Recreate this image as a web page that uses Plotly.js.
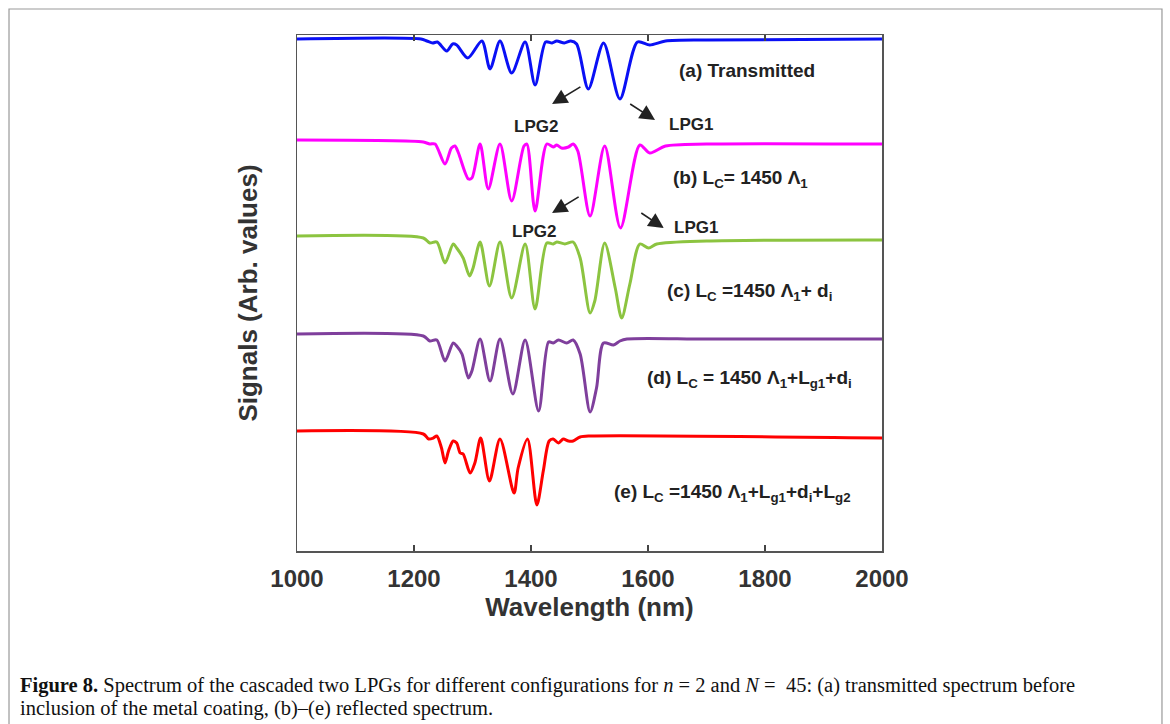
<!DOCTYPE html>
<html>
<head>
<meta charset="utf-8">
<script src="https://cdn.plot.ly/plotly-3.0.1.min.js"></script>
<style>
  html, body { margin: 0; padding: 0; background: #ffffff; }
  #chart { width: 1170px; height: 724px; }
</style>
</head>
<body>
<div id="chart"></div>
<script>
// ---- data (wavelength in nm, signal in arbitrary offset units) ----
const wavelengthA = [1000, 1212, 1222, 1232, 1240, 1256, 1266, 1273, 1292, 1316, 1330, 1347, 1367, 1390, 1407, 1425, 1436, 1444, 1457, 1468, 1478, 1498, 1524, 1552, 1582, 1603, 1630, 1700, 2000];
const signalA     = [5.12, 5.12, 5.10, 5.08, 5.09, 5.00, 5.07, 5.06, 4.93, 5.10, 4.82, 5.10, 4.78, 5.09, 4.66, 5.09, 5.08, 5.10, 5.08, 5.10, 5.07, 4.62, 5.08, 4.52, 5.09, 5.06, 5.10, 5.11, 5.12];

const wavelengthB = [1000, 1216, 1227, 1236, 1253, 1264, 1270, 1276, 1293, 1299, 1313, 1327, 1347, 1367, 1388, 1393, 1407, 1427, 1438, 1444, 1452, 1464, 1472, 1480, 1501, 1526, 1553, 1586, 1603, 1630, 1700, 2000];
const signalB     = [4.11, 4.09, 4.07, 4.07, 3.87, 4.03, 4.05, 3.98, 3.72, 3.73, 4.07, 3.62, 4.07, 3.50, 4.05, 4.07, 3.40, 4.07, 4.04, 4.06, 4.03, 4.04, 4.07, 4.00, 3.35, 4.05, 3.23, 4.06, 3.98, 4.05, 4.07, 4.07];

const wavelengthC = [1000, 1216, 1227, 1239, 1253, 1267, 1273, 1284, 1295, 1301, 1313, 1329, 1347, 1367, 1390, 1407, 1427, 1438, 1444, 1458, 1472, 1484, 1501, 1509, 1526, 1544, 1555, 1569, 1586, 1601, 1615, 1700, 2000];
const signalC     = [3.15, 3.13, 3.08, 3.09, 2.88, 3.07, 3.03, 2.93, 2.75, 2.83, 3.09, 2.65, 3.09, 2.53, 3.07, 2.42, 3.08, 3.07, 3.09, 3.07, 3.09, 2.93, 2.38, 2.50, 3.08, 2.63, 2.33, 2.67, 3.07, 3.03, 3.07, 3.10, 3.11];

const wavelengthD = [1000, 1216, 1227, 1239, 1253, 1267, 1273, 1282, 1293, 1299, 1313, 1330, 1347, 1369, 1390, 1413, 1430, 1438, 1447, 1461, 1472, 1484, 1501, 1512, 1524, 1541, 1552, 1564, 1700, 2000];
const signalD     = [2.17, 2.15, 2.10, 2.11, 1.90, 2.08, 2.05, 1.97, 1.73, 1.80, 2.12, 1.70, 2.12, 1.57, 2.11, 1.40, 2.09, 2.08, 2.11, 2.08, 2.11, 1.97, 1.39, 1.63, 2.08, 2.06, 2.10, 2.12, 2.12, 2.12];

const wavelengthE = [1000, 1216, 1225, 1233, 1239, 1247, 1253, 1259, 1267, 1273, 1279, 1284, 1296, 1304, 1314, 1329, 1347, 1371, 1378, 1394, 1410, 1421, 1431, 1438, 1447, 1455, 1464, 1472, 1484, 1501, 2000];
const signalE     = [1.20, 1.17, 1.12, 1.13, 1.15, 1.03, 0.88, 1.00, 1.10, 1.08, 0.98, 0.97, 0.78, 0.88, 1.13, 0.70, 1.12, 0.58, 0.83, 1.12, 0.46, 0.80, 1.10, 1.12, 1.08, 1.12, 1.10, 1.10, 1.14, 1.15, 1.13];

const seriesNames = ["(a) Transmitted", "(b)", "(c)", "(d)", "(e)"];
const xTickValues = [1000, 1200, 1400, 1600, 1800, 2000];
const xTickLabels = ["1000", "1200", "1400", "1600", "1800", "2000"];

// ---- styles ----
const colors = ["#0a10f5", "#ff00ff", "#8cc440", "#7f3f9c", "#ff0000"];
const xs = [wavelengthA, wavelengthB, wavelengthC, wavelengthD, wavelengthE];
const ys = [signalA, signalB, signalC, signalD, signalE];

const traces = xs.map((x, i) => ({
  x: x, y: ys[i], type: "scatter", mode: "lines", name: seriesNames[i],
  line: { color: colors[i], width: 3, shape: "spline", smoothing: 0.8 },
  hoverinfo: "x+y"
}));

const annFont = { family: "Liberation Sans, Arial, sans-serif", size: 19, color: "#222", weight: "bold" };
const lpgFont = { family: "Liberation Sans, Arial, sans-serif", size: 17, color: "#222", weight: "bold" };
const capFont = { family: "Liberation Serif, Times New Roman, serif", size: 20.5, color: "#111" };

function arrow(xHead, yHead, xTail, yTail) {
  return { x: xHead, y: yHead, ax: xTail, ay: yTail, xref: "x", yref: "y", axref: "x", ayref: "y",
           text: "", showarrow: true, arrowhead: 2, arrowsize: 1.9, arrowwidth: 1.6, arrowcolor: "#222" };
}
function label(x, y, txt, font) {
  return { x: x, y: y, xref: "x", yref: "y", text: txt, showarrow: false, xanchor: "left", yanchor: "middle", font: font };
}

const annotations = [
  label(1649, 4.81, "<b>(a) Transmitted</b>", annFont),
  label(1367, 4.25, "<b>LPG2</b>", lpgFont),
  label(1632, 4.27, "<b>LPG1</b>", lpgFont),
  label(1640, 3.72, "<b>(b) L<sub>C</sub>= 1450 Λ<sub>1</sub></b>", annFont),
  label(1364, 3.20, "<b>LPG2</b>", lpgFont),
  label(1641, 3.24, "<b>LPG1</b>", lpgFont),
  label(1629, 2.59, "<b>(c) L<sub>C</sub> =1450 Λ<sub>1</sub>+ d<sub>i</sub></b>", annFont),
  label(1595, 1.72, "<b>(d) L<sub>C</sub> = 1450 Λ<sub>1</sub>+L<sub>g1</sub>+d<sub>i</sub></b>", annFont),
  label(1538, 0.58, "<b>(e) L<sub>C</sub> =1450 Λ<sub>1</sub>+L<sub>g1</sub>+d<sub>i</sub>+L<sub>g2</sub></b>", annFont),
  arrow(1436, 4.47, 1487, 4.65),
  arrow(1612, 4.31, 1567, 4.48),
  arrow(1436, 3.38, 1484, 3.55),
  arrow(1627, 3.23, 1586, 3.39),
  { xref: "paper", yref: "paper", x: -0.4769, y: -0.2597, xanchor: "left", yanchor: "middle", align: "left", showarrow: false,
    font: capFont,
    text: "<b>Figure 8.</b> Spectrum of the cascaded two LPGs for different configurations for <i>n</i> = 2 and <i>N</i> =  45: (a) transmitted spectrum before" },
  { xref: "paper", yref: "paper", x: -0.4769, y: -0.3043, xanchor: "left", yanchor: "middle", align: "left", showarrow: false,
    font: capFont,
    text: "inclusion of the metal coating, (b)–(e) reflected spectrum." }
];

const layout = {
  width: 1170, height: 724,
  margin: { l: 297, r: 288, t: 35, b: 173 },
  paper_bgcolor: "#ffffff", plot_bgcolor: "#ffffff",
  showlegend: false,
  font: { family: "Liberation Sans, Arial, sans-serif", color: "#333" },
  xaxis: {
    range: [1000, 2000], tickvals: xTickValues, ticktext: xTickLabels,
    ticks: "inside", ticklen: 6, tickwidth: 1.2, tickcolor: "#444",
    showline: true, linecolor: "#555", linewidth: 1.5, mirror: "ticks",
    showgrid: false, zeroline: false,
    tickfont: { size: 24, color: "#333", weight: "bold" },
    ticklabelstandoff: 6,
    title: { text: "Wavelength (nm)", font: { size: 26, color: "#333", weight: "bold" }, standoff: 6 }
  },
  yaxis: {
    range: [0, 5.16], showticklabels: false, ticks: "",
    showline: true, linecolor: "#555", linewidth: 1.5, mirror: true,
    showgrid: false, zeroline: false,
    title: { text: "Signals (Arb. values)", font: { size: 26, color: "#333", weight: "bold" }, standoff: 30 }
  },
  annotations: annotations,
  shapes: [
    { type: "rect", xref: "paper", yref: "paper", x0: -0.4923, x1: 1.4786, y0: -0.3450, y1: 1.0504,
      line: { color: "#999", width: 1.2 }, fillcolor: "rgba(0,0,0,0)", layer: "below" }
  ]
};

Plotly.newPlot("chart", traces, layout, { displayModeBar: false, staticPlot: true });
</script>
</body>
</html>
